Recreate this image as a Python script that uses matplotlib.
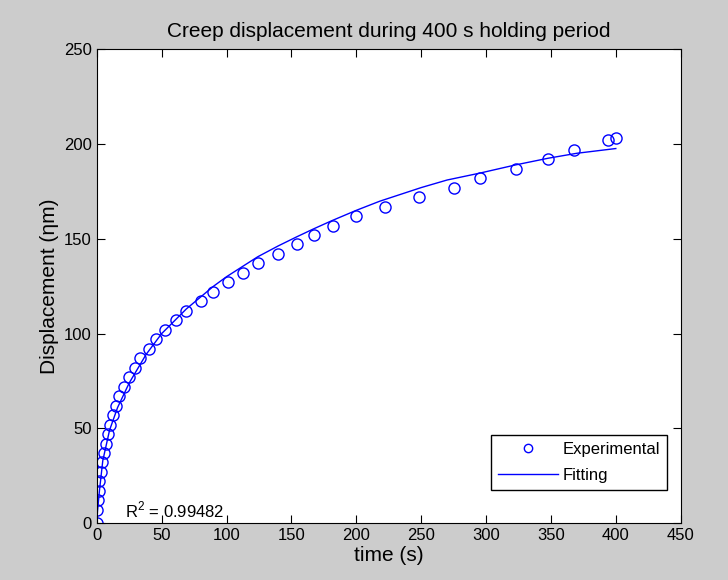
import matplotlib
matplotlib.use('Agg')
import matplotlib.pyplot as plt
import numpy as np

plt.rcParams['font.family'] = ['Liberation Sans', 'DejaVu Sans']
plt.rcParams['mathtext.fontset'] = 'custom'
plt.rcParams['mathtext.rm'] = 'Liberation Sans'

# experimental creep data (holding segment)
t_exp = [0, 0.2, 0.6, 1.3, 2.0, 3.0, 4.0, 5.3, 6.8, 8.5, 10.4, 12.6, 14.8,
         17.3, 20.6, 25.0, 29.2, 33.4, 40.5, 45.6, 52.6, 61.2, 68.9, 80.6,
         89.8, 101, 112.6, 124, 139.5, 154, 167.2, 182, 199.5, 222, 248,
         275, 295, 323, 348, 367.5, 394, 400]
d_exp = [0, 7, 12, 17, 22, 27, 32, 37, 42, 47, 52, 57, 62,
         67, 72, 77, 82, 87, 92, 97, 102, 107, 112, 117,
         122, 127, 132, 137, 142, 147, 152, 157, 162, 167, 172,
         177, 182, 187, 192, 197, 202, 203]

# fitted curve
t_fit = [0, 0.5, 2, 4.6, 9.8, 16, 25, 38, 50, 69, 90, 100, 124, 140, 154,
         167, 181, 200, 218, 250, 270, 295, 323, 348, 370, 400]
d_fit = [0, 6, 17, 33, 49, 61, 74, 89, 100, 113, 125, 130, 140.5, 146.3,
         151.0, 155.2, 159.5, 165, 169.8, 177, 181, 184.6, 189, 192.5,
         195.1, 197.6]

fig = plt.figure(figsize=(7.28, 5.8), dpi=100, facecolor='#cccccc')
ax = fig.add_axes([0.133, 0.098, 0.802, 0.8172])

ax.plot(t_exp, d_exp, 'o', mfc='none', mec='#0000ff', ms=8, mew=1.0,
        label='Experimental')
ax.plot(t_fit, d_fit, '-', color='#0000ff', lw=1.0, label='Fitting')

ax.set_xlim(0, 450)
ax.set_ylim(0, 250)
ax.set_xticks(np.arange(0, 451, 50))
ax.set_yticks(np.arange(0, 251, 50))
ax.tick_params(direction='in', top=True, right=True, labelsize=12, length=6)

ax.set_title('Creep displacement during 400 s holding period', fontsize=15, pad=9)
ax.set_xlabel('time (s)', fontsize=15, labelpad=2)
ax.set_ylabel('Displacement (ηm)', fontsize=15)

ax.text(22, 3, 'R$^2$ = 0.99482', fontsize=12)

leg = ax.legend(loc='lower right', bbox_to_anchor=(0.976, 0.07),
                borderaxespad=0, fontsize=12, fancybox=False, framealpha=1,
                edgecolor='black', handlelength=3.6, markerscale=0.75,
                borderpad=0.4, labelspacing=0.7, handletextpad=0.3)
leg.get_frame().set_linewidth(1.0)

fig.savefig('out.png', dpi=100, facecolor=fig.get_facecolor())
